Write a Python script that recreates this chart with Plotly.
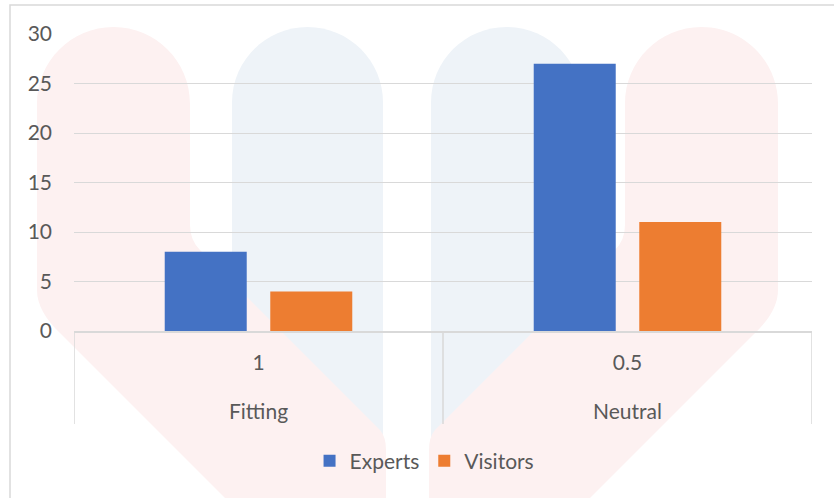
import plotly.graph_objects as go

# Chart data
groups = ["Fitting", "Neutral"]
scores = ["1", "0.5"]
experts = [8, 27]
visitors = [4, 11]
series_names = ["Experts", "Visitors"]
y_ticks = [0, 5, 10, 15, 20, 25, 30]

W, H = 834, 498
L, R, T, B = 74, 22, 34, 167
PW, PH = W - L - R, H - T - B

FONT = "Lato, 'Open Sans', sans-serif"
FS = 21
TEXT = "#595959"
GRID = "#d9d9d9"


def px(x):
    return (x - L) / PW


def py(y):
    return (H - B - y) / PH


def path(cmds):
    """Build an SVG path in paper units from pixel-space commands."""
    out = []
    for c in cmds:
        op, pts = c[0], c[1:]
        coords = " ".join(f"{px(pts[i]):.5f},{py(pts[i + 1]):.5f}" for i in range(0, len(pts), 2))
        out.append(f"{op}{coords}")
    return " ".join(out) + " Z"


def pill(x0, x1, top, bottom):
    r = (x1 - x0) / 2
    k = 0.5523 * r
    cx = (x0 + x1) / 2
    return path([
        ("M", x0, bottom),
        ("L", x0, top + r),
        ("C", x0, top + r - k, cx - k, top, cx, top),
        ("C", cx + k, top, x1, top + r - k, x1, top + r),
        ("L", x1, bottom),
    ])


def lobe(mirror=False):
    f = (lambda x: 815 - x) if mirror else (lambda x: x)
    x0, x1, top = 37, 190, 27
    r = (x1 - x0) / 2
    k = 0.5523 * r
    cx = (x0 + x1) / 2
    return path([
        ("M", f(x0), 290),
        ("L", f(x0), top + r),
        ("C", f(x0), top + r - k, f(cx - k), top, f(cx), top),
        ("C", f(cx + k), top, f(x1), top + r - k, f(x1), top + r),
        ("L", f(x1), 225),
        ("Q", f(x1), 240, f(200), 250),
        ("L", f(380), 430),
        ("Q", f(386), 437, f(386), 450),
        ("L", f(386), 505),
        ("L", f(232), 505),
        ("L", f(62), 335),
        ("Q", f(x0), 312, f(x0), 290),
    ])


shapes = [
    dict(type="path", xref="paper", yref="paper", layer="below",
         path=pill(232, 383, 27, 505), fillcolor="#eef3f8", line=dict(width=0)),
    dict(type="path", xref="paper", yref="paper", layer="below",
         path=pill(431, 582, 27, 505), fillcolor="#eef3f8", line=dict(width=0)),
    dict(type="path", xref="paper", yref="paper", layer="below",
         path=lobe(False), fillcolor="#fdf1f1", line=dict(width=0)),
    dict(type="path", xref="paper", yref="paper", layer="below",
         path=lobe(True), fillcolor="#fdf1f1", line=dict(width=0)),
    # chart frame
    dict(type="rect", xref="paper", yref="paper", layer="above",
         x0=px(10), x1=px(840), y0=py(505), y1=py(5),
         line=dict(color=GRID, width=1.5), fillcolor="rgba(0,0,0,0)"),
]

# category dividers below the axis, at the category boundaries
for b in [-0.5, 0.5, 1.5]:
    shapes.append(dict(type="line", xref="x", yref="paper", x0=b, x1=b,
                       y0=py(331), y1=py(424), line=dict(color=GRID, width=1.5),
                       layer="above"))

# outer group labels under the score labels
annotations = [
    dict(text=g, xref="x", yref="paper", x=i, y=py(410), yanchor="middle",
         showarrow=False, font=dict(family=FONT, size=FS, color=TEXT))
    for i, g in enumerate(groups)
]

fig = go.Figure()
fig.add_trace(go.Bar(x=scores, y=experts, name=series_names[0], marker_color="#4472c4",
                     marker_line_width=0))
fig.add_trace(go.Bar(x=scores, y=visitors, name=series_names[1], marker_color="#ed7d31",
                     marker_line_width=0))

fig.update_layout(
    width=W, height=H,
    margin=dict(l=L, r=R, t=T, b=B),
    paper_bgcolor="white",
    plot_bgcolor="rgba(0,0,0,0)",
    barmode="group",
    bargap=0.428,
    bargroupgap=0.223,
    font=dict(family=FONT, size=FS, color=TEXT),
    shapes=shapes,
    annotations=annotations,
    legend=dict(orientation="h", x=0.475, xanchor="center", y=py(461), yanchor="middle",
                font=dict(family=FONT, size=FS, color=TEXT), bgcolor="rgba(0,0,0,0)",
                itemwidth=30),
    showlegend=True,
)
fig.update_yaxes(range=[0, 30], tickvals=y_ticks, showgrid=True, gridcolor=GRID, gridwidth=1.3,
                 zeroline=False, showline=False, ticks="", ticklabelstandoff=21,
                 tickfont=dict(family=FONT, size=FS, color=TEXT))
fig.update_xaxes(type="category", range=[-0.5, 1.5], showline=True, linecolor=GRID,
                 linewidth=1.5, ticks="", showgrid=False, ticklabelstandoff=12,
                 tickfont=dict(family=FONT, size=FS, color=TEXT))

fig.write_html("out.html")
